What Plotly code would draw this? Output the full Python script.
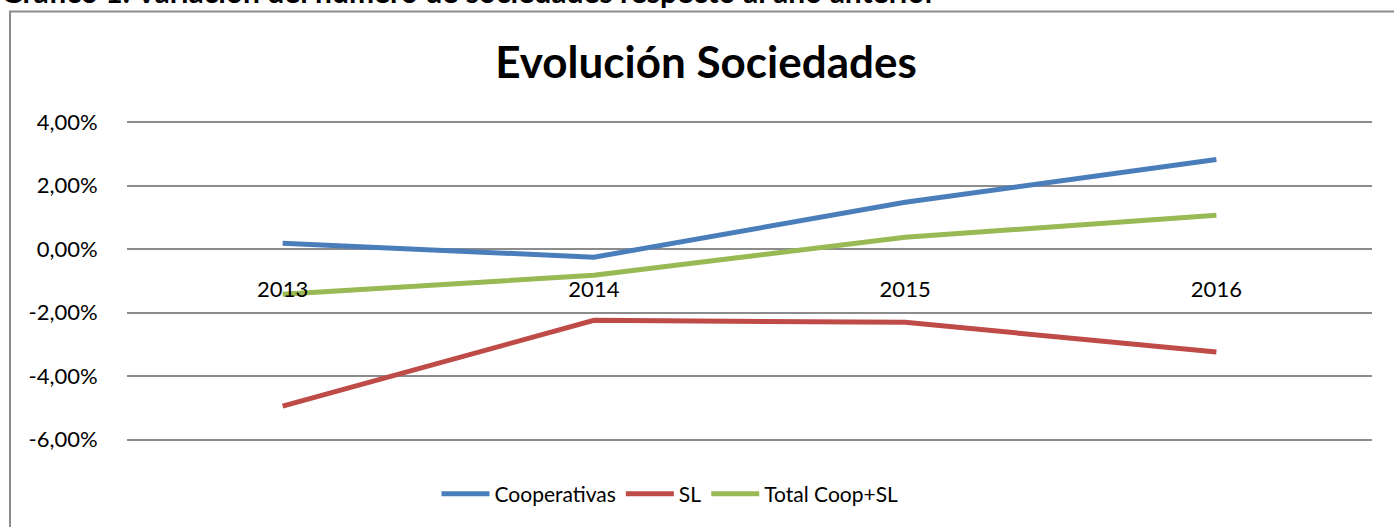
import plotly.graph_objects as go

years = ["2013", "2014", "2015", "2016"]
cooperativas = [0.0019, -0.0025, 0.0148, 0.0283]
sl = [-0.0494, -0.0224, -0.0230, -0.0324]
total = [-0.0142, -0.0082, 0.0038, 0.0107]

y_ticks = [-0.06, -0.04, -0.02, 0.0, 0.02, 0.04]
y_tick_text = ["-6,00%", "-4,00%", "-2,00%", "0,00%", "2,00%", "4,00%"]

series = [
    ("Cooperativas", cooperativas, "#4A7EBB"),
    ("SL", sl, "#BE4B48"),
    ("Total Coop+SL", total, "#98B954"),
]

FONT = "Lato, Calibri, 'Open Sans', sans-serif"

fig = go.Figure()
for name, vals, color in series:
    fig.add_trace(go.Scatter(x=years, y=vals, name=name, mode="lines",
                             line=dict(color=color, width=5)))

W, H = 1394, 527
L, R, T, B = 127, 22, 121, 86
pw, ph = W - L - R, H - T - B
Y0, Y1 = -0.0604, 0.0404


def px_x(p):
    return (p - L) / pw


def px_y(p):
    return (H - B - p) / ph


fig.update_layout(
    width=W, height=H,
    margin=dict(l=L, r=R, t=T, b=B, autoexpand=False),
    paper_bgcolor="white", plot_bgcolor="white",
    font=dict(family=FONT, color="black", size=22),
    title=dict(text="<b>Evolución Sociedades</b>", x=706 / W, xanchor="center",
               y=1 - 63 / H, yanchor="middle", font=dict(size=44, family=FONT)),
    xaxis=dict(type="category", anchor="free", position=(0 - Y0) / (Y1 - Y0),
               range=[-0.5, 3.5], showgrid=False, showline=False, zeroline=False,
               ticks="outside", ticklen=20, tickcolor="rgba(0,0,0,0)",
               tickfont=dict(size=22, family=FONT)),
    yaxis=dict(range=[Y0, Y1], tickvals=y_ticks, ticktext=y_tick_text,
               showgrid=True, gridcolor="#8C8C8C", gridwidth=1.6,
               zeroline=False, showline=False,
               ticks="outside", ticklen=24, tickcolor="rgba(0,0,0,0)",
               tickfont=dict(size=22, family=FONT)),
    legend=dict(orientation="h", x=px_x(670), xanchor="center",
                y=px_y(494), yanchor="middle",
                font=dict(size=21, family=FONT), itemwidth=48,
                bgcolor="rgba(0,0,0,0)"),
    showlegend=True,
)

# chart frame (only top/left visible in the reference)
fig.add_shape(type="rect", xref="paper", yref="paper",
              x0=px_x(10), x1=px_x(1420), y0=px_y(560), y1=px_y(11.5),
              line=dict(color="#8C8C8C", width=2), fillcolor="rgba(0,0,0,0)",
              layer="below")

# cut-off heading above the chart
fig.add_annotation(text="<b>Gráfico 1. Variación del número de sociedades respecto al año anterior</b>",
                   xref="paper", yref="paper", x=px_x(-1), y=px_y(-9),
                   xanchor="left", yanchor="middle", showarrow=False,
                   font=dict(size=30, family=FONT, color="black"))

fig.write_html("out.html", config={"displayModeBar": False},
               post_script="document.body.style.margin='0px';")
